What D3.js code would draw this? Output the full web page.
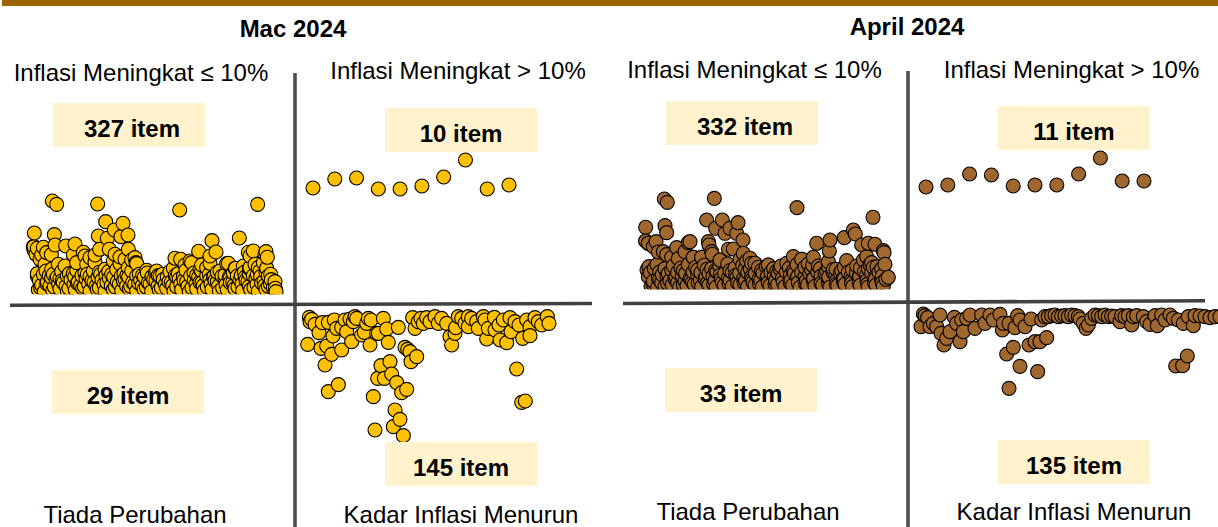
<!DOCTYPE html>
<html><head><meta charset="utf-8">
<script src="https://cdn.jsdelivr.net/npm/d3@7"></script>
<style>html,body{margin:0;padding:0;background:#fff;overflow:hidden}svg{display:block}text{font-family:"Liberation Sans",Arial,sans-serif;fill:#000}</style>
</head><body><script>
const monthTitles = ["Mac 2024", "April 2024"];
const quadrantTitles = ["Inflasi Meningkat ≤ 10%", "Inflasi Meningkat > 10%", "Tiada Perubahan", "Kadar Inflasi Menurun"];
const marchCounts = ["327 item", "10 item", "29 item", "145 item"];
const aprilCounts = ["332 item", "11 item", "33 item", "135 item"];

const marchLowRise = [
[85,14],[103,8],[128,12],[150,16],[172,9],[196,13],[218,18],[240,10],[262,15],[285,9],[310,14],[335,11],[358,17],[380,10],[402,15],[425,9],[448,13],[470,18],[492,10],[515,14],[538,8],[560,16],[583,11],[606,15],[628,9],[652,13],[675,17],[698,10],[722,14],[745,9],[768,15],[790,20],
[95,28],[120,25],[146,30],[168,24],[192,29],[212,26],[236,31],[258,24],[282,30],[304,26],[328,31],[350,25],[374,30],[397,26],[420,31],[444,25],[466,30],[488,26],[512,31],[534,24],[558,30],[580,26],[603,31],[626,25],[648,29],[672,26],[696,31],[718,24],[741,30],[764,26],[781,32],
[88,42],[112,38],[138,46],[160,35],[183,44],[205,37],[228,47],[252,36],[276,43],[298,48],[322,38],[345,45],[368,36],[392,42],[415,35],[438,40],[460,44],[484,37],[508,46],[530,38],[553,42],[576,35],[600,44],[622,38],[645,46],[668,36],[690,43],[714,39],[738,47],[762,40],[784,44],
[82,54],[118,56],[142,52],[172,55],[194,52],[216,56],[240,54],[264,52],[288,56],[311,52],[334,55],[356,52],[380,55],[403,52],[426,53],[450,55],[472,52],[496,56],[520,53],[542,55],[566,52],[590,56],[612,53],[636,55],[658,52],[682,55],[706,52],[730,56],[752,53],[775,55],
[82,62],[108,70],[130,60],[155,68],[178,62],[200,72],[225,64],[250,70],[272,60],[296,68],[320,74],[342,62],[365,70],[388,60],[412,64],[436,66],[458,60],[480,68],[505,62],[528,72],[552,64],[575,70],[598,60],[622,66],[645,58],[670,64],[694,56],[718,62],[742,60],[768,66],
[92,20],[110,33],[133,22],[157,41],[177,18],[202,34],[223,23],[246,41],[268,20],[291,36],[316,22],[340,40],[362,24],[386,34],[409,21],[431,44],[454,20],[477,38],[500,23],[522,42],[546,20],[570,36],[592,22],[615,41],[638,19],[661,35],[684,22],[708,42],[732,20],[755,34],[775,24],[798,8],
[100,60],[125,50],[150,48],[190,62],[232,60],[268,66],[305,60],[351,58],[398,58],[445,56],[500,52],[560,58],[610,52],[660,48],[703,66],[750,70],[782,60],
[78,120],[90,105],[105,90],[125,75],[145,90],[165,85],[200,95],[230,90],[255,95],[285,75],[310,100],[330,92],[355,80],[378,95],[410,72],[440,70],[490,78],[525,88],[545,95],[570,75],[650,92],[675,78],[720,80],[745,80],[770,78],
[70,143],[72,133],[82,138],[95,118],[110,125],[225,115],[240,110],[255,118],[315,120],[330,112],[345,105],[365,103],[380,92],[375,110],[540,100],[575,88],[590,80],[630,70],[700,85],[735,90],[760,95],
[127,280],[140,270],[263,271],[509,253],[743,270],[73,184],[133,179],[287,218],[339,213],[313,193],[354,178],[265,175],[292,168],[333,173],[195,151],[167,145],[135,148],[100,141],[72,143],[355,135],[269,135],[298,135],[124,119],[220,126],[190,118],[566,129],[606,161],[688,169],[600,93],[600,115],[618,127],[495,108],[512,105],[715,126],[720,115],[730,130],[768,128],[765,121],[772,111],[655,93],[677,78],[718,78],[770,78],[796,18],[795,38]
];
const marchHighRise = [[1,11.2],[2,12.1],[3,12.2],[4,11.1],[5,11.1],[6,11.4],[7,12.3],[8,14.0],[9,11.1],[10,11.5]];
const marchFall = [
[38,-148],[43,-67],[50,-73],[45,-80],[60,-88],[82,-83],[100,-82],[118,-75],[125,-100],[140,-97],[150,-75],[165,-72],[180,-65],[185,-70],[175,-80],[72,-113],[114,-123],[78,-160],[95,-153],[110,-178],[140,-165],[90,-210],[130,-269],[100,-290],[155,-110],[170,-140],[200,-120],[208,-112],[225,-150],[220,-70],[215,-85],[228,-75],[245,-115],[250,-115],[265,-70],[275,-102],[280,-142],[310,-97],[235,-305],[258,-212],[285,-200],[248,-250],[268,-250],[290,-237],[305,-263],[320,-293],[335,-283],[300,-345],[295,-395],[315,-373],[240,-405],[325,-422],[330,-157],[338,-163],[345,-170],[348,-200],[365,-185],
[353,-68],[360,-100],[370,-80],[378,-70],[385,-85],[395,-68],[405,-80],[420,-65],[430,-85],[440,-70],[455,-85],[465,-125],[470,-150],[480,-115],[482,-98],[490,-65],[500,-70],[510,-85],[520,-65],[530,-70],[520,-95],[545,-80],[550,-100],[565,-65],[570,-75],[580,-100],[575,-132],[598,-67],[600,-105],[612,-90],[615,-135],[625,-75],[635,-143],[645,-68],[648,-110],[660,-80],[672,-90],[683,-130],[695,-75],[705,-95],[705,-122],[720,-68],[730,-80],[740,-90],[757,-65],[762,-85],[665,-222],[680,-322],[691,-318]
];
const aprilLowRise = [
[78,10],[98,6],[120,10],[142,14],[164,7],[186,11],[208,15],[230,8],[252,13],[274,7],[298,12],[322,9],[345,14],[368,8],[390,13],[412,7],[435,11],[458,15],[480,8],[503,12],[525,6],[548,14],[570,9],[593,13],[615,7],[638,11],[660,15],[683,8],[706,12],[730,7],[753,13],[775,10],
[85,24],[110,20],[135,26],[158,20],[180,25],[203,21],[226,27],[248,20],[270,26],[292,21],[315,27],[338,20],[362,26],[384,21],[407,27],[430,20],[452,26],[475,21],[498,27],[520,20],[544,26],[566,21],[588,27],[610,20],[634,25],[656,21],[680,27],[703,20],[726,26],[748,21],[770,28],
[70,38],[100,34],[126,41],[150,32],[172,40],[195,33],[218,42],[240,32],[264,39],[286,43],[310,34],[332,41],[356,32],[380,38],[402,31],[426,36],[448,40],[472,33],[496,42],[518,34],[540,38],[564,31],[588,40],[610,34],[632,42],[655,32],[678,39],[702,35],[725,43],[750,36],[772,40],
[76,50],[104,52],[130,48],[158,51],[182,48],[204,52],[228,50],[252,48],[276,52],[299,48],[322,51],[344,48],[368,51],[391,48],[414,49],[438,51],[460,48],[484,52],[508,49],[530,51],[554,48],[578,52],[600,49],[624,51],[646,48],[670,51],[694,48],[718,52],[740,49],[762,51],
[72,68],[96,74],[120,62],[145,70],[168,64],[190,74],[212,66],[238,72],[260,62],[284,70],[308,76],[330,64],[353,72],[376,62],[400,66],[424,68],[446,62],[468,70],[493,64],[516,74],[540,66],[563,72],[586,62],[610,68],[633,60],[658,66],[682,58],[706,64],[730,62],[756,68],
[84,16],[104,30],[128,18],[153,38],[175,14],[199,30],[220,19],[243,38],[266,16],[289,32],[312,18],[336,36],[358,20],[382,30],[404,17],[428,40],[450,16],[473,34],[496,19],[518,38],[542,16],[566,32],[588,18],[611,37],[634,15],[657,31],[680,18],[704,38],[728,16],[751,30],[772,20],[790,36],
[66,58],[88,62],[112,44],[140,58],[175,56],[218,58],[246,60],[272,56],[315,56],[360,60],[410,56],[455,54],[505,56],[560,58],[605,54],[650,56],[695,70],[735,74],[770,62],
[62,145],[70,138],[85,128],[100,112],[125,104],[140,96],[160,92],[205,96],[230,96],[262,105],[285,88],[345,90],[365,85],[380,78],[430,73],[465,62],[485,78],[530,90],[550,76],[580,70],[625,60],[715,88],[740,80],[745,66],
[62,186],[120,191],[125,170],[245,208],[292,208],[339,200],[272,183],[300,168],[315,183],[335,168],[354,148],[93,143],[62,145],[70,138],[250,143],[252,133],[195,143],[190,140],[155,125],[115,113],[180,113],[260,113],[310,120],[325,121],[355,108],[375,93],[390,78],[575,138],[615,148],[613,115],[658,155],[685,178],[691,166],[710,133],[730,138],[750,135],[775,116],[777,110],[725,98],[665,86],[505,98],[530,90],[565,96],[610,83],[430,73],[285,88],[205,96],[230,96],[780,75],[783,30],[118,271],[127,261],[268,273],[516,245],[744,216]
];
const aprilHighRise = [[1,11.3],[2,11.5],[3,12.6],[4,12.5],[5,11.4],[6,11.5],[7,11.5],[8,12.6],[9,14.2],[10,11.9],[11,11.9]];
const aprilFall = [
[55,-57],[60,-62],[48,-95],[68,-68],[75,-95],[85,-85],[105,-60],[95,-95],[108,-115],[117,-150],[125,-130],[135,-110],[148,-67],[165,-140],[155,-85],[175,-110],[170,-75],[185,-70],[195,-60],[210,-100],[230,-60],[240,-85],[255,-60],[265,-75],[285,-58],[292,-105],[295,-85],[312,-85],[330,-98],[338,-62],[345,-75],[360,-95],[378,-72],[410,-75],[305,-177],[325,-157],[345,-214],[398,-230],[312,-280],[372,-150],[390,-140],[405,-140],[425,-128],
[420,-65],[430,-65],[440,-62],[450,-60],[460,-65],[470,-63],[480,-62],[490,-65],[500,-60],[510,-62],[520,-65],[525,-72],[535,-85],[543,-100],[550,-90],[560,-70],[570,-60],[580,-62],[590,-65],[600,-60],[610,-65],[620,-63],[630,-65],[645,-80],[650,-62],[660,-65],[670,-62],[680,-90],[685,-65],[695,-62],[715,-65],[725,-80],[735,-88],[750,-62],[757,-92],[770,-60],[780,-75],[795,-60],[805,-70],[820,-75],[835,-85],[850,-65],[865,-92],[870,-62],[885,-63],[900,-65],[915,-68],[930,-65],[945,-65],[812,-213],[833,-212],[847,-183]
];

const W = 1218, H = 527;
const svg = d3.select("body").append("svg").attr("width", W).attr("height", H);
svg.append("rect").attr("x", 2).attr("y", 0).attr("width", W - 2).attr("height", 6).attr("fill", "#9C6500");

function lines(vx, vy0, hx0, hx1, hy0, hy1) {
  svg.append("line").attr("x1", vx).attr("x2", vx).attr("y1", vy0).attr("y2", H)
     .attr("stroke", "#505050").attr("stroke-width", 3.6);
  svg.append("line").attr("x1", hx0).attr("x2", hx1).attr("y1", hy0).attr("y2", hy1)
     .attr("stroke", "#404040").attr("stroke-width", 3.6);
}
lines(295, 73, 10, 592, 305.2, 303.5);
lines(908, 71, 623, 1205, 303.5, 300.8);

function label(str, x, y, size, bold) {
  svg.append("text").attr("x", x).attr("y", y).attr("font-size", size)
     .attr("font-weight", bold ? "bold" : "normal").attr("text-anchor", "middle").text(str);
}
function countBox(str, x, y, textShift) {
  svg.append("rect").attr("x", x).attr("y", y).attr("width", 152).attr("height", 44).attr("fill", "#FFF2CC");
  label(str, x + 76 + textShift, y + 34, 24, true);
}

function dots(data, xDom, xRange, yDom, yRange, clip, fill) {
  const x = d3.scaleLinear().domain(xDom).range(xRange);
  const y = d3.scaleLinear().domain(yDom).range(yRange);
  const id = "c" + Math.round(xRange[0]) + "_" + Math.round(yRange[0]);
  const g = svg.append("g");
  if (clip) {
    svg.append("clipPath").attr("id", id).append("rect")
      .attr("x", 0).attr("y", clip[0]).attr("width", W).attr("height", clip[1] - clip[0]);
    g.attr("clip-path", `url(#${id})`);
  }
  g.selectAll("circle").data(d3.sort(data, d => d[0])).join("circle")
    .attr("cx", d => x(d[0])).attr("cy", d => y(d[1])).attr("r", 7)
    .attr("fill", fill).attr("stroke", "#000").attr("stroke-width", 1.1);
}

const gold = "#FFC000", brown = "#A0682F";
dots(marchLowRise, [0,870], [10,300], [0,343], [294.3,180], [170,294.3], gold);
dots(marchHighRise, [1,10], [313,509], [0,30], [300,0], null, gold);
dots(marchFall, [0,810], [295,565], [0,-450], [295,445], null, gold);
dots(aprilLowRise, [0,870], [625,915], [0,328], [289.3,180], [170,289.3], brown);
dots(aprilHighRise, [1,11], [926,1144], [0,30], [300,0], null, brown);
dots(aprilFall, [0,939], [905,1218], [0,-330], [295,405], null, brown);

label(monthTitles[0], 293, 37, 24, true);
label(monthTitles[1], 907, 35, 24, true);

label(quadrantTitles[0], 141, 81, 24);
label(quadrantTitles[1], 458, 79, 24);
label(quadrantTitles[2], 135, 523, 24);
label(quadrantTitles[3], 461, 523, 24);
label(quadrantTitles[0], 754.5, 78, 24);
label(quadrantTitles[1], 1071.5, 78, 24);
label(quadrantTitles[2], 748, 520, 24);
label(quadrantTitles[3], 1074, 520, 24);

countBox(marchCounts[0], 53, 103, 3);
countBox(marchCounts[1], 385, 108, 0);
countBox(marchCounts[2], 52, 370, 0);
countBox(marchCounts[3], 385, 442, 0);
countBox(aprilCounts[0], 666, 101, 3);
countBox(aprilCounts[1], 998, 106, 0);
countBox(aprilCounts[2], 665, 368, 0);
countBox(aprilCounts[3], 998, 440, 0);
</script></body></html>
